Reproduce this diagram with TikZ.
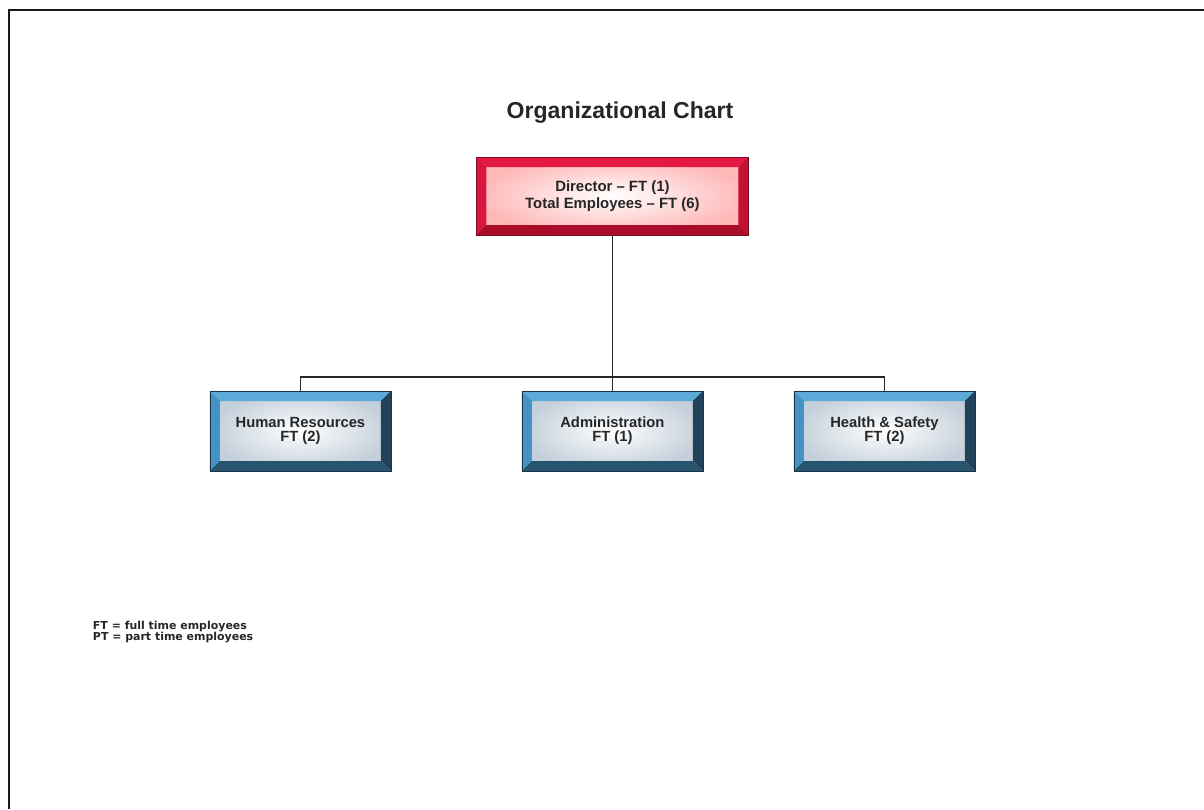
\documentclass[tikz,border=0pt]{standalone}
\usepackage{fontspec}
\setmainfont{Liberation Sans}
\newfontfamily\legendfont{DejaVu Sans}
\usetikzlibrary{positioning}

\definecolor{redtop}{HTML}{E41A44}
\definecolor{redleft}{HTML}{D9163F}
\definecolor{redright}{HTML}{C31232}
\definecolor{redbottom}{HTML}{A90D2A}
\definecolor{reddark}{HTML}{7A0A1E}
\definecolor{bluetop}{HTML}{5DAAD8}
\definecolor{blueleft}{HTML}{4393C4}
\definecolor{blueright}{HTML}{21425A}
\definecolor{bluebottom}{HTML}{27536F}
\definecolor{bluedark}{HTML}{1A3346}
\definecolor{blueface}{HTML}{C3CFDA}
\definecolor{inkgray}{HTML}{262626}

% width of the bevelled rim
\def\bw{0.25cm}

\tikzset{
    bevel/.style n args={4}{path picture={
        \path (path picture bounding box.north west) coordinate (nw)
              (path picture bounding box.south east) coordinate (se);
        \fill[#1] (nw) -- (nw -| se) -- ++(-\bw,-\bw) -- ([shift={(\bw,-\bw)}]nw) -- cycle;
        \fill[#2] (nw) -- (nw |- se) -- ++(\bw,\bw) -- ([shift={(\bw,-\bw)}]nw) -- cycle;
        \fill[#3] (se) -- (nw -| se) -- ++(-\bw,-\bw) -- ([shift={(-\bw,\bw)}]se) -- cycle;
        \fill[#4] (se) -- (nw |- se) -- ++(\bw,\bw) -- ([shift={(-\bw,\bw)}]se) -- cycle;
    }}
}

\begin{document}
\begin{tikzpicture}[
    head/.style={draw=reddark, line width=0.4pt, minimum width=6.8cm, minimum height=1.95cm,
        inner color=white, outer color=red!28!white, bevel={redtop}{redleft}{redright}{redbottom},
        align=center, text=inkgray, font=\fontsize{10.6}{12.2}\selectfont\bfseries},
    unit/.style={draw=bluedark, line width=0.4pt, minimum width=4.525cm, minimum height=2cm,
        inner color=white, outer color=blueface, bevel={bluetop}{blueleft}{blueright}{bluebottom},
        align=center, text=inkgray, font=\fontsize{10.5}{10.2}\selectfont\bfseries},
    link/.style={line width=0.9pt, black!85}
]
\useasboundingbox (0,0) rectangle (30.1,-20.225);

% page frame
\draw[line width=1.3pt, black!90] (30.1,-0.25) -- (0.225,-0.25) -- (0.225,-20.225);

\node[font=\fontsize{16.4}{19}\selectfont\bfseries, text=inkgray] (title) at (15.5,-2.82) {Organizational Chart};

% top of the chart
\node[head] (director) at (15.31,-4.9) {Director -- FT (1)\\Total Employees -- FT (6)};

% departments
\node[unit] (hr) at (7.51,-10.775) {Human Resources\\FT (2)};
\node[unit] (admin) at (15.31,-10.775) {Administration\\FT (1)};
\node[unit] (hs) at (22.11,-10.775) {Health \& Safety\\FT (2)};

\coordinate (bus) at (15.31,-9.425);
\draw[link] (director.south) -- (admin.north);
\draw[link] (hr.north) -- (hr.north |- bus) -- (hs.north |- bus) -- (hs.north);

% legend
\node[anchor=west, align=left, text=inkgray, font=\legendfont\fontsize{7.8}{8.1}\selectfont\bfseries] (legend) at (2.2,-15.8)
    {FT = full time employees\\PT = part time employees};
\end{tikzpicture}
\end{document}
